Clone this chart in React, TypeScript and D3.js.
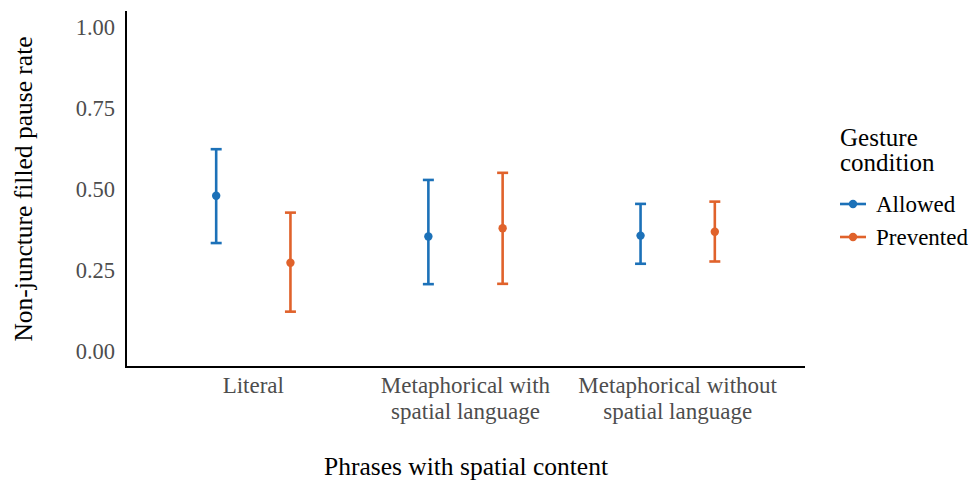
import React from "react";
import * as d3 from "d3";

const categories = ["Literal", "Metaphorical with\nspatial language", "Metaphorical without\nspatial language"];
const conditions = ["Allowed", "Prevented"];
const colors = ["#1c71b8", "#e0622b"];
const allowedMean = [0.479, 0.353, 0.356];
const allowedLow = [0.333, 0.206, 0.269];
const allowedHigh = [0.623, 0.528, 0.454];
const preventedMean = [0.272, 0.379, 0.368];
const preventedLow = [0.121, 0.207, 0.276];
const preventedHigh = [0.427, 0.550, 0.461];
const yTicks = [0, 0.25, 0.5, 0.75, 1.0];

const W = 971;
const H = 483;
const FONT = "'Liberation Serif', 'DejaVu Serif', serif";

export default function App() {
  const x = d3.scaleLinear().domain([0.4, 3.6]).range([126, 805]);
  const y = d3.scaleLinear().domain([-0.05, 1.05]).range([367, 11]);
  const dodge = 0.175;
  const cap = 5.5;

  const series = [
    { name: conditions[0], color: colors[0], mean: allowedMean, low: allowedLow, high: allowedHigh, off: -dodge },
    { name: conditions[1], color: colors[1], mean: preventedMean, low: preventedLow, high: preventedHigh, off: dodge },
  ];

  return (
    <svg width={W} height={H} style={{ display: "block", position: "absolute", left: 0, top: 0, background: "#fff" }} fontFamily={FONT}>
      <rect width={W} height={H} fill="#fff" />
      {/* axes */}
      <line x1={x(0.4)} x2={x(0.4)} y1={y(1.05)} y2={y(-0.05)} stroke="#000" strokeWidth={2} />
      <line x1={x(0.4) - 1} x2={x(3.6)} y1={y(-0.05)} y2={y(-0.05)} stroke="#000" strokeWidth={2} />
      {yTicks.map((t) => (
        <text key={t} x={115} y={y(t)} dy="0.35em" textAnchor="end" fontSize={22.5} fill="#4d4d4d">
          {d3.format(".2f")(t)}
        </text>
      ))}
      {categories.map((c, i) => (
        <text key={c} x={x(i + 1)} y={393} textAnchor="middle" fontSize={23} fill="#4d4d4d">
          {c.split("\n").map((line, j) => (
            <tspan key={j} x={x(i + 1)} dy={j === 0 ? 0 : 26}>{line}</tspan>
          ))}
        </text>
      ))}
      {/* series */}
      {series.map((s) => (
        <g key={s.name}>
          {s.mean.map((m, i) => {
            const cx = x(i + 1 + s.off);
            return (
              <g key={i}>
                <line x1={cx} x2={cx} y1={y(s.low[i])} y2={y(s.high[i])} stroke={s.color} strokeWidth={2.6} />
                <line x1={cx - cap} x2={cx + cap} y1={y(s.low[i])} y2={y(s.low[i])} stroke={s.color} strokeWidth={2.6} />
                <line x1={cx - cap} x2={cx + cap} y1={y(s.high[i])} y2={y(s.high[i])} stroke={s.color} strokeWidth={2.6} />
                <circle cx={cx} cy={y(m)} r={4.2} fill={s.color} />
              </g>
            );
          })}
        </g>
      ))}
      {/* titles */}
      <text x={466} y={475} textAnchor="middle" fontSize={25.5} fill="#000">Phrases with spatial content</text>
      <text transform={`translate(32,189) rotate(-90)`} textAnchor="middle" fontSize={25.5} fill="#000">Non-juncture filled pause rate</text>
      {/* legend */}
      <text x={840} y={146} fontSize={25} fill="#000">Gesture</text>
      <text x={840} y={171} fontSize={25} fill="#000">condition</text>
      {series.map((s, i) => {
        const ly = 204 + i * 33;
        return (
          <g key={s.name}>
            <line x1={840} x2={866} y1={ly} y2={ly} stroke={s.color} strokeWidth={2.6} />
            <circle cx={853} cy={ly} r={4.2} fill={s.color} />
            <text x={876} y={ly} dy="0.35em" fontSize={23} fill="#000">{s.name}</text>
          </g>
        );
      })}
    </svg>
  );
}
